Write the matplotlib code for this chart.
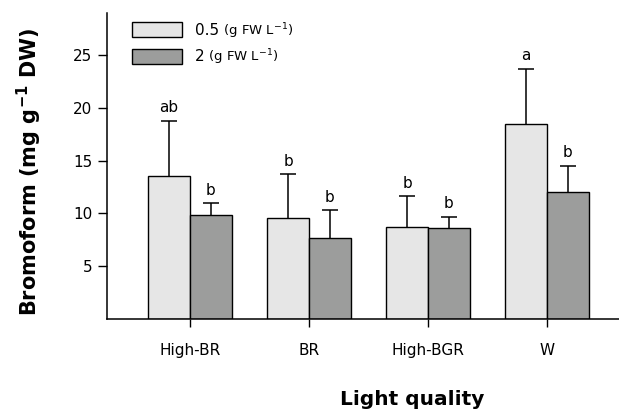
import matplotlib
matplotlib.use("Agg")
import matplotlib.pyplot as plt
import numpy as np

# data
categories = ["High-BR", "BR", "High-BGR", "W"]
low_means = [13.5, 9.6, 8.7, 18.5]      # 0.5 g FW L-1
low_errs = [5.3, 4.1, 2.9, 5.2]
high_means = [9.85, 7.65, 8.6, 12.0]    # 2 g FW L-1
high_errs = [1.1, 2.65, 1.05, 2.5]
low_letters = ["ab", "b", "b", "a"]
high_letters = ["b", "b", "b", "b"]
yticks = [5, 10, 15, 20, 25]

plt.rcParams["font.family"] = ["DejaVu Sans"]

fig = plt.figure(figsize=(6.19, 4.11), dpi=100)
ax = fig.add_axes([107 / 619, 1 - 318.8 / 411, 1 - 107 / 619, (318.8 - 13) / 411])

x = np.arange(len(categories))
w = 0.35
light = "#e6e6e6"
dark = "#9c9d9c"


def bars_with_errors(xs, means, errs, color, label, letters):
    ax.bar(xs, means, w, color=color, edgecolor="black", linewidth=1.0, label=label, zorder=2)
    _, caps, _ = ax.errorbar(xs, means, yerr=[np.zeros(len(xs)), errs], fmt="none",
                             ecolor="black", elinewidth=1.1, capsize=6, capthick=1.1, zorder=1)
    # only keep the upper cap
    caps[0].set_visible(False)
    for xi, m, e, t in zip(xs, means, errs, letters):
        ax.annotate(t, (xi, m + e), xytext=(0, 4), textcoords="offset points",
                    ha="center", va="bottom", fontsize=11)


bars_with_errors(x - w / 2, low_means, low_errs, light, "0.5", low_letters)
bars_with_errors(x + w / 2, high_means, high_errs, dark, "2", high_letters)

ax.set_xlim(-0.697, 3.605)
ax.set_ylim(0, 29)
ax.set_xticks(x)
ax.set_xticklabels(categories, fontsize=11)
ax.set_yticks(yticks)
ax.set_yticklabels([str(v) for v in yticks], fontsize=11)
ax.tick_params(axis="y", direction="out", length=6.5, width=1.0, pad=4)
ax.tick_params(axis="x", direction="out", length=5.5, width=1.0, pad=12)

for s in ["top", "right"]:
    ax.spines[s].set_visible(False)
for s in ["left", "bottom"]:
    ax.spines[s].set_linewidth(1.1)

ax.set_xlabel("Light quality", fontsize=14.5, fontweight="bold", va="center")
ax.xaxis.set_label_coords(0.596, -0.265)
ax.set_ylabel("Bromoform (mg g$^{\\mathbf{-1}}$ DW)", fontsize=15, fontweight="bold", va="center")
ax.yaxis.set_label_coords(-0.152, 0.48)

leg = ax.legend(loc="upper left", bbox_to_anchor=(0.037, 0.99), frameon=False,
                fontsize=11, handlelength=3.3, handleheight=1.15, handletextpad=0.8,
                labelspacing=0.7, borderaxespad=0)
for t in leg.get_texts():
    ax.annotate(" (g FW L$^{\\mathregular{-1}}$)", xy=(1, 0.2), xycoords=t,
                ha="left", va="baseline", fontsize=9.5, zorder=10)

fig.savefig("out.png", dpi=100)
